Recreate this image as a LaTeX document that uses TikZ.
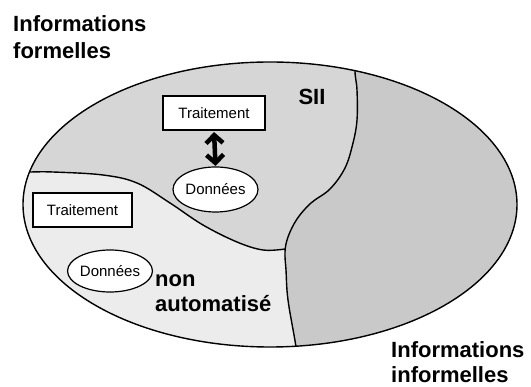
\documentclass[tikz,border=0pt]{standalone}
\usepackage{fontspec}
\setmainfont{Liberation Sans}
\usetikzlibrary{shapes.geometric,arrows.meta}
\definecolor{siigray}{HTML}{D6D6D6}
\definecolor{infgray}{HTML}{C9C9C9}
\definecolor{nongray}{HTML}{ECECEC}
\tikzset{
  big/.style={font=\fontsize{22}{27}\selectfont\bfseries, inner sep=0pt},
  boxnode/.style={draw, fill=white, line width=1.2pt, minimum width=100pt, minimum height=34pt, inner sep=0pt, font=\fontsize{15}{17}\selectfont},
  ellnode/.style={ellipse, draw, fill=white, line width=1.2pt, inner sep=0pt, font=\fontsize{15}{17}\selectfont},
  border/.style={line width=1.4pt},
  dblarrow/.style={line width=4.5pt, {Straight Barb[length=8pt,width=17pt]}-{Straight Barb[length=8pt,width=17pt]}},
}
\begin{document}
\begin{tikzpicture}[x=1pt,y=-1pt]
\useasboundingbox (0,0) rectangle (531,387);
\def\rightdiv{(354,40) (355,72) (357,90) (357,120) (353,143) (345,168) (330,189) (311,203) (297,219) (288,237) (285,252) (286,270) (288,300) (296,347) (298,370)}
\def\leftdiv{(0,172) (28,172) (53,172) (103,175) (137,183) (170,203) (203,225) (237,242) (263,250) (285,249)}
% regions
\begin{scope}
  \clip (270,204.5) ellipse [x radius=247, y radius=142.5];
  \fill[siigray] (0,0) rectangle (531,387);
  \fill[nongray] plot[smooth, tension=0.6] coordinates {\leftdiv} -- (300,249) -- (300,400) -- (0,400) -- cycle;
  \fill[infgray] plot[smooth, tension=0.6] coordinates {\rightdiv} -- (600,370) -- (600,40) -- cycle;
  \draw[border] plot[smooth, tension=0.6] coordinates {\rightdiv};
  \draw[border] plot[smooth, tension=0.6] coordinates {\leftdiv};
\end{scope}
\node[draw, border, ellipse, minimum width=494pt, minimum height=285pt, inner sep=0pt] (ell) at (270,204.5) {};
% texts
\node[big, anchor=base west] (formA) at (13,32) {Informations};
\node[big, anchor=base west] (formB) at (13,59) {formelles};
\node[big, anchor=base west] (informA) at (391,358) {Informations};
\node[big, anchor=base west] (informB) at (391,383) {informelles};
\node[big, anchor=base] (sii) at (312,105) {SII};
\node[big, anchor=base west] (nonA) at (155,287) {non};
\node[big, anchor=base west] (nonB) at (155,312) {automatisé};
% nodes
\node[boxnode, minimum width=102pt] (trt1) at (214,113) {Traitement};
\node[boxnode, minimum width=99pt] (trt2) at (82.5,210) {Traitement};
\node[ellnode, minimum width=85pt, minimum height=45pt] (don1) at (215.5,189.5) {Données};
\node[ellnode, minimum width=80pt, minimum height=42pt] (don2) at (110,271) {Données};
\draw[dblarrow, shorten <=1.5pt, shorten >=0.5pt] (trt1.south) -- (don1.north);
\end{tikzpicture}
\end{document}
